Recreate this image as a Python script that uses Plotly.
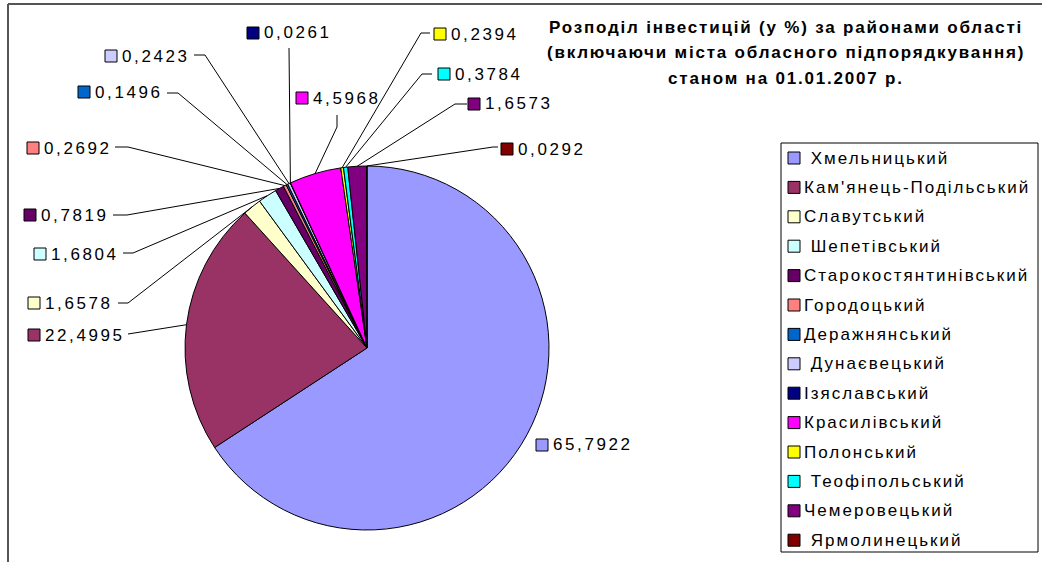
import math
import plotly.graph_objects as go

# ---------------- data ----------------
districts = [" Хмельницький", "Кам'янець-Подільський", "Славутський", " Шепетівський",
             "Старокостянтинівський", "Городоцький", "Деражнянський", " Дунаєвецький",
             "Ізяславський", "Красилівський", "Полонський", " Теофіпольський",
             "Чемеровецький", " Ярмолинецький"]
shares = [65.7922, 22.4995, 1.6578, 1.6804, 0.7819, 0.2692, 0.1496, 0.2423,
          0.0261, 4.5968, 0.2394, 0.3784, 1.6573, 0.0292]
colors = ["#9999FF", "#993366", "#FFFFCC", "#CCFFFF", "#660066", "#FF8080", "#0066CC",
          "#CCCCFF", "#000080", "#FF00FF", "#FFFF00", "#00FFFF", "#800080", "#800000"]
title_lines = ["Розподіл інвестицій (у %) за районами області",
               "(включаючи міста обласного підпорядкування)",
               "станом на 01.01.2007 р."]

# ---------------- layout constants (pixels) ----------------
W, H = 1042, 562
PIE_CX, PIE_CY, PIE_R = 367, 348, 182
FONT = "Liberation Sans, Arial, sans-serif"

# label square left x / centre y for each data label
label_pos = [(536, 445), (28, 335), (28, 303), (34, 254), (24, 215), (27, 148),
             (78, 92), (105, 56), (247, 33), (296, 98), (434, 34), (438, 74),
             (468, 104), (501, 149)]
# leader lines: start point and elbow point (None = no leader)
leader_start = [None, (128, 334), (118, 303), (123, 253), (113, 215), (115, 147),
                (167, 93), (194, 55), (289, 48), (337, 115), (430, 33), (432, 74),
                (467, 104), (498, 147)]
leader_elbow = [None, (128, 334), (128, 303), (133, 253), (127, 215), (128, 147),
                (178, 93), (205, 55), (289, 48), (337, 127), (421, 33), (422, 74),
                (455, 104), (493, 147)]


def px(x):
    return x / W


def py(y):
    return 1 - y / H


def spaced(t, ls):
    return f'<span style="letter-spacing:{ls}px">{t}</span>'


fig = go.Figure()
fig.add_trace(go.Pie(
    labels=[d.strip() for d in districts], values=shares, sort=False,
    direction="clockwise", rotation=0,
    marker=dict(colors=colors, line=dict(color="black", width=1)),
    textinfo="none", showlegend=False,
    domain=dict(x=[px(PIE_CX - PIE_R), px(PIE_CX + PIE_R)],
                y=[py(PIE_CY + PIE_R), py(PIE_CY - PIE_R)]),
))

shapes = []
annotations = []

# frame
shapes.append(dict(type="line", xref="paper", yref="paper", x0=px(8), y0=py(4), x1=px(W), y1=py(4),
                   line=dict(color="#555555", width=2)))
shapes.append(dict(type="line", xref="paper", yref="paper", x0=px(8), y0=py(4), x1=px(8), y1=py(H),
                   line=dict(color="#555555", width=2)))

# data labels + leader lines
total = sum(shares)
cum = 0.0
for i, v in enumerate(shares):
    mid = (cum + v / 2) / total
    cum += v
    th = 2 * math.pi * mid
    ex = PIE_CX + PIE_R * math.sin(th)
    ey = PIE_CY - PIE_R * math.cos(th)
    sx, sy = label_pos[i]
    shapes.append(dict(type="rect", xref="paper", yref="paper",
                       x0=px(sx), x1=px(sx + 12), y0=py(sy - 6), y1=py(sy + 6),
                       fillcolor=colors[i], line=dict(color="black", width=1)))
    txt = f"{v:.4f}".replace(".", ",")
    annotations.append(dict(xref="paper", yref="paper", x=px(sx + 15), y=py(sy),
                            xanchor="left", yanchor="middle", showarrow=False,
                            text=spaced(txt, 2.6), font=dict(family=FONT, size=17, color="black")))
    if leader_start[i] is not None:
        (ax, ay), (bx, by) = leader_start[i], leader_elbow[i]
        path = (f"M {px(ax)},{py(ay)} L {px(bx)},{py(by)} L {px(ex)},{py(ey)}")
        shapes.append(dict(type="path", xref="paper", yref="paper", path=path,
                           line=dict(color="black", width=1)))

# legend box
shapes.append(dict(type="rect", xref="paper", yref="paper", x0=px(781), x1=px(1038),
                   y0=py(552), y1=py(143), line=dict(color="black", width=1),
                   fillcolor="rgba(0,0,0,0)"))
for i, name in enumerate(districts):
    yc = 158 + i * 29.4
    shapes.append(dict(type="rect", xref="paper", yref="paper",
                       x0=px(788), x1=px(800), y0=py(yc - 6), y1=py(yc + 6),
                       fillcolor=colors[i], line=dict(color="black", width=1)))
    shown = name.replace(" ", "\u00a0", 1) if name.startswith(" ") else name
    annotations.append(dict(xref="paper", yref="paper", x=px(802), y=py(yc),
                            xanchor="left", yanchor="middle", showarrow=False,
                            text=spaced(shown, 2), font=dict(family=FONT, size=17, color="black")))

# title
for k, line in enumerate(title_lines):
    annotations.append(dict(xref="paper", yref="paper", x=px(786), y=py(28 + k * 25),
                            xanchor="center", yanchor="middle", showarrow=False,
                            text=spaced(f"<b>{line}</b>", 1.8),
                            font=dict(family=FONT, size=17, color="black")))

fig.update_layout(width=W, height=H, margin=dict(l=0, r=0, t=0, b=0),
                  paper_bgcolor="white", plot_bgcolor="white",
                  shapes=shapes, annotations=annotations)

fig.write_html("out.html", config={"displayModeBar": False},
               post_script="document.body.style.margin='0';")
